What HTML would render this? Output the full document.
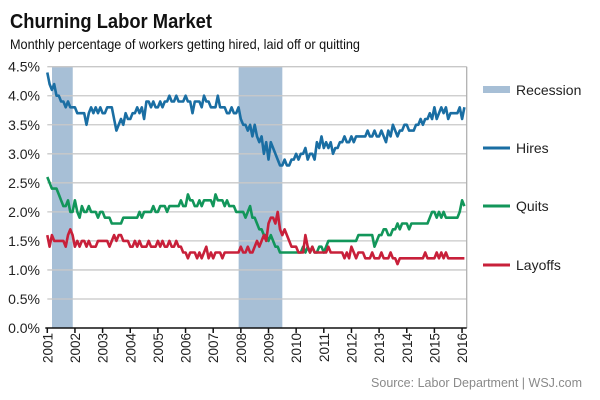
<!DOCTYPE html>
<html><head><meta charset="utf-8"><style>
body{margin:0;background:#fff;}
svg{display:block;font-family:"Liberation Sans",Arial,sans-serif;}
</style></head><body>
<svg id="c" width="600" height="400" viewBox="0 0 600 400">
<text x="10" y="28" font-size="20" font-weight="bold" fill="#111" textLength="202" lengthAdjust="spacingAndGlyphs">Churning Labor Market</text>
<text x="10" y="49" font-size="14" fill="#111" textLength="350" lengthAdjust="spacingAndGlyphs">Monthly percentage of workers getting hired, laid off or quitting</text>
<text x="582" y="387" font-size="12.5" fill="#8a8a8a" text-anchor="end">Source: Labor Department  |  WSJ.com</text>
<g id="plot"></g>
</svg>
<script>
const yTicks=[0,0.5,1,1.5,2,2.5,3,3.5,4,4.5];
const yearLabels=[2001,2002,2003,2004,2005,2006,2007,2008,2009,2010,2011,2012,2013,2014,2015,2016];
const recessions=[[2001.17,2001.92],[2007.92,2009.5]];
const hires=[4.4,4.2,4.1,4.2,4.0,4.0,3.9,3.9,3.8,3.9,3.8,3.8,
3.8,3.7,3.7,3.7,3.7,3.5,3.7,3.8,3.7,3.8,3.7,3.8,
3.7,3.7,3.8,3.8,3.8,3.6,3.4,3.5,3.6,3.5,3.7,3.6,
3.6,3.7,3.7,3.8,3.7,3.8,3.6,3.9,3.9,3.8,3.9,3.8,
3.8,3.9,3.8,3.9,3.9,4.0,3.9,3.9,4.0,3.9,3.9,3.9,
4.0,3.9,3.9,3.7,3.9,3.9,3.9,3.8,4.0,3.9,3.9,3.8,
3.8,3.8,4.0,3.8,3.8,3.8,3.7,3.7,3.8,3.7,3.7,3.8,
3.6,3.5,3.5,3.4,3.5,3.3,3.5,3.3,3.2,3.3,3.0,3.2,
2.9,3.2,3.1,3.0,2.9,2.8,2.8,2.9,2.8,2.8,2.9,2.9,
3.0,2.9,3.0,3.0,3.1,2.9,3.0,3.0,2.9,3.2,3.1,3.3,
3.1,3.2,3.1,3.2,3.0,3.1,3.1,3.2,3.2,3.3,3.2,3.2,
3.3,3.2,3.3,3.3,3.3,3.3,3.3,3.4,3.3,3.3,3.4,3.3,
3.3,3.4,3.3,3.2,3.4,3.3,3.5,3.4,3.3,3.4,3.4,3.5,
3.5,3.4,3.4,3.4,3.5,3.5,3.6,3.5,3.6,3.6,3.7,3.6,
3.8,3.6,3.7,3.8,3.7,3.8,3.6,3.7,3.7,3.7,3.7,3.8,
3.6,3.8];
const quits=[2.6,2.5,2.4,2.4,2.4,2.3,2.2,2.1,2.1,2.2,2.0,2.0,
2.2,2.0,1.9,2.1,2.0,2.0,2.1,2.0,2.0,2.0,1.9,2.0,
2.0,1.9,1.9,1.9,1.8,1.8,1.8,1.8,1.8,1.9,1.9,1.9,
1.9,1.9,1.9,1.9,2.0,1.9,2.0,2.0,2.0,2.0,2.1,2.0,
2.0,2.1,2.1,2.1,2.0,2.1,2.1,2.1,2.1,2.1,2.2,2.1,
2.1,2.3,2.2,2.2,2.1,2.1,2.2,2.1,2.2,2.2,2.2,2.2,
2.1,2.3,2.2,2.2,2.2,2.1,2.2,2.1,2.1,2.1,2.0,2.0,
2.0,2.0,1.9,2.0,2.1,1.9,1.9,1.8,1.7,1.7,1.6,1.6,
1.5,1.6,1.5,1.4,1.4,1.3,1.3,1.3,1.3,1.3,1.3,1.3,
1.3,1.3,1.3,1.4,1.3,1.4,1.3,1.4,1.3,1.3,1.4,1.4,
1.3,1.4,1.5,1.5,1.5,1.5,1.5,1.5,1.5,1.5,1.5,1.5,
1.5,1.5,1.5,1.6,1.6,1.6,1.6,1.6,1.6,1.6,1.4,1.5,
1.6,1.6,1.7,1.7,1.6,1.6,1.7,1.7,1.8,1.7,1.8,1.8,
1.8,1.7,1.8,1.8,1.8,1.8,1.8,1.8,1.8,1.8,1.9,2.0,
2.0,1.9,2.0,1.9,2.0,1.9,1.9,1.9,1.9,1.9,1.9,2.0,
2.2,2.1];
const layoffs=[1.6,1.4,1.6,1.5,1.5,1.5,1.5,1.5,1.4,1.6,1.7,1.6,
1.4,1.5,1.4,1.5,1.5,1.4,1.5,1.4,1.4,1.4,1.5,1.5,
1.5,1.5,1.5,1.4,1.5,1.6,1.5,1.6,1.6,1.5,1.5,1.5,
1.4,1.4,1.5,1.4,1.5,1.4,1.4,1.4,1.5,1.4,1.4,1.4,
1.5,1.4,1.5,1.4,1.4,1.5,1.4,1.4,1.5,1.4,1.4,1.3,
1.3,1.2,1.3,1.3,1.3,1.2,1.3,1.2,1.3,1.4,1.2,1.3,
1.2,1.3,1.3,1.3,1.2,1.3,1.3,1.3,1.3,1.3,1.3,1.3,
1.4,1.3,1.3,1.4,1.3,1.3,1.4,1.5,1.4,1.5,1.6,1.5,
1.8,1.9,1.9,1.8,2.0,1.7,1.6,1.7,1.6,1.5,1.4,1.4,
1.4,1.3,1.3,1.3,1.6,1.4,1.3,1.4,1.3,1.3,1.3,1.3,
1.3,1.3,1.4,1.3,1.3,1.3,1.3,1.3,1.3,1.2,1.3,1.2,
1.4,1.3,1.2,1.3,1.3,1.3,1.2,1.2,1.2,1.3,1.2,1.2,
1.2,1.3,1.2,1.2,1.2,1.3,1.2,1.2,1.1,1.2,1.2,1.2,
1.2,1.2,1.2,1.2,1.2,1.2,1.2,1.2,1.3,1.2,1.2,1.2,
1.2,1.3,1.2,1.3,1.2,1.3,1.2,1.2,1.2,1.2,1.2,1.2,
1.2,1.2];
const seriesNames=["Hires","Quits","Layoffs"];
const seriesColors=["#1a6ea3","#12965a","#c8203a"];

const NS="http://www.w3.org/2000/svg";
const g=document.getElementById('plot');
const L=47.3,R=466.7,T=66.7,B=328,YW=27.65;
const x=t=>L+(t-2001)*YW;
const y=v=>B-(v/4.5)*(B-T);
function el(tag,a){const e=document.createElementNS(NS,tag);for(const k in a)e.setAttribute(k,a[k]);g.appendChild(e);return e;}

recessions.forEach(r=>{
 const e=el('rect',{x:x(r[0]),y:T,width:x(r[1])-x(r[0]),height:B-T,fill:'#a7bfd6'});
 
 
});
yTicks.forEach(v=>{
 if(v>0){const l=el('line',{x1:L,x2:R,y1:y(v),y2:y(v),stroke:'#c8c8c8','stroke-width':1.3});
 
 }
 const t=el('text',{x:40,y:y(v)+5,'font-size':14,'text-anchor':'end',fill:'#222'});
 t.textContent=v.toFixed(1)+'%';
 
 
});
const rb=el('line',{x1:R,x2:R,y1:T,y2:B,stroke:'#b0b0b0','stroke-width':1.3});



[hires,quits,layoffs].forEach((s,k)=>{
 const pts=s.map((v,i)=>x(2001+i/12).toFixed(1)+','+y(v).toFixed(1)).join(' ');
 const p=el('polyline',{points:pts,fill:'none',stroke:seriesColors[k],'stroke-width':2.6,'stroke-linejoin':'round'});
 
 
});

const ax=el('line',{x1:L-2,x2:R,y1:B,y2:B,stroke:'#111','stroke-width':1.5});


yearLabels.forEach(yr=>{
 const xx=x(yr);
 const tk=el('line',{x1:xx,x2:xx,y1:B,y2:B+5,stroke:'#111','stroke-width':1.5});
 
 
 const t=el('text',{x:0,y:0,'font-size':13.5,'text-anchor':'end',fill:'#222',transform:`translate(${xx+5},${B+5}) rotate(-90)`});
 t.textContent=yr;
 
 
});

const lr=el('rect',{x:483,y:86,width:27,height:7,fill:'#a7bfd6'});


const lt=el('text',{x:516,y:95,'font-size':14,fill:'#222'});
lt.textContent='Recession';


const ly=[148,206,265];
seriesNames.forEach((n,k)=>{
 const s=el('line',{x1:483,x2:510,y1:ly[k],y2:ly[k],stroke:seriesColors[k],'stroke-width':3});
 
 
 const t=el('text',{x:516,y:ly[k]+5,'font-size':14,fill:'#222'});
 t.textContent=n;
 
 
});
</script>
</body></html>
